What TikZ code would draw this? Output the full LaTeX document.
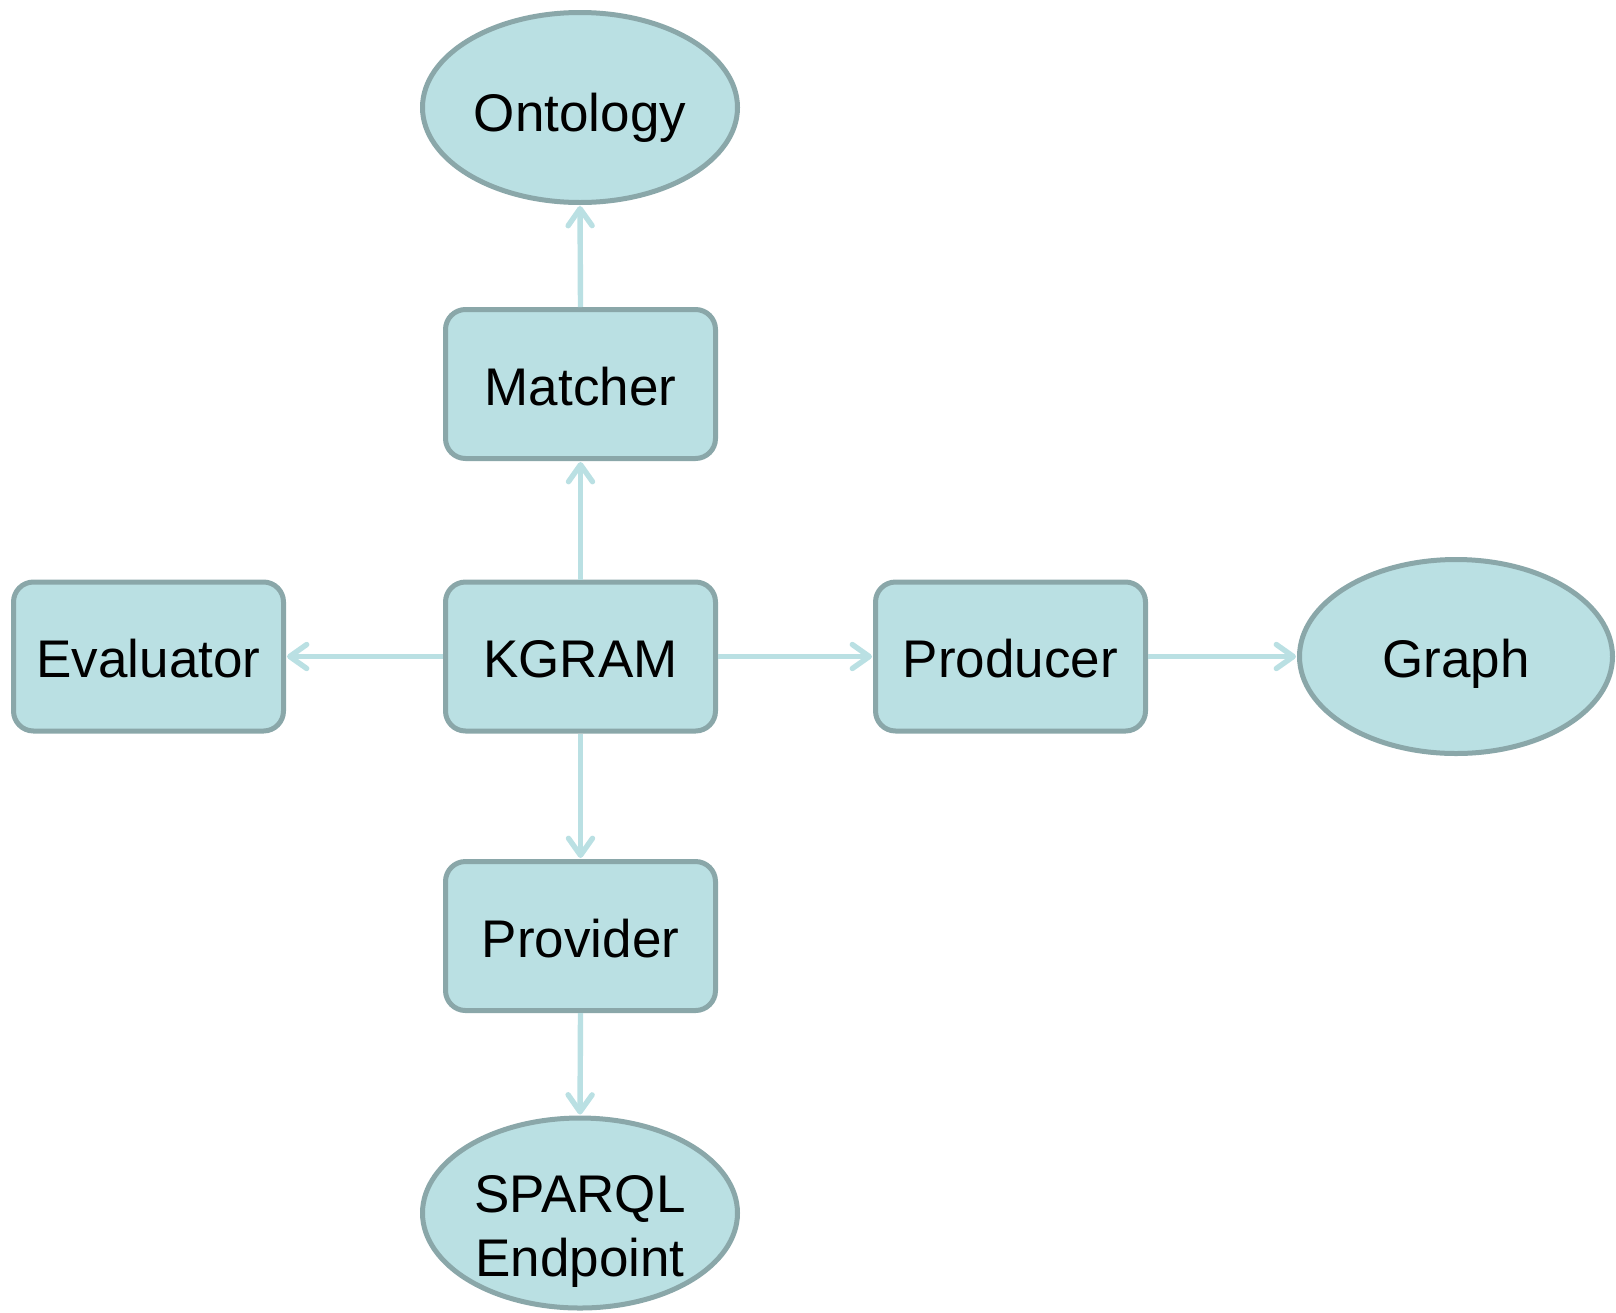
\documentclass[tikz,border=0pt]{standalone}
\usepackage{fontspec}
\setmainfont{Liberation Sans}
\usetikzlibrary{shapes.geometric,arrows.meta}
\definecolor{boxfill}{HTML}{BAE0E3}
\definecolor{boxline}{HTML}{8AA7A9}
\definecolor{linkcol}{HTML}{BAE0E3}
\begin{document}
\begin{tikzpicture}[x=0.5pt,y=-0.5pt,
  label text/.style={font=\fontsize{26.5}{32}\selectfont, text=black, align=center,
    text height=21pt, text depth=0pt},
  module/.style={label text, draw=boxline, fill=boxfill, line width=2.5pt,
    rounded corners=10pt, minimum width=135pt, minimum height=74.5pt, inner sep=0pt},
  store/.style={label text, ellipse, draw=boxline, fill=boxfill, line width=2.5pt,
    minimum width=157.5pt, minimum height=93.5pt, inner sep=0pt},
  link/.style={draw=linkcol, line width=2.7pt,
    -{Straight Barb[length=8.5pt,width=12pt,line cap=round,round]}, shorten >=0.5pt}]
\useasboundingbox (0,0) rectangle (1616,1312);

% stores
\node[store, minimum height=95pt, text height=24pt] (onto) at (580,107.5) {Ontology};
\node[store, minimum width=156.5pt, minimum height=97pt] (graph) at (1456,656.5) {Graph};
\node[store, minimum height=95pt, text height=63pt] (sparql) at (580,1213) {SPARQL\\Endpoint};

% modules
\node[module] (matcher) at (580.5,384) {Matcher};
\node[module] (kgram) at (580.5,656.5) {KGRAM};
\node[module] (eval) at (148.5,656.5) {Evaluator};
\node[module] (prod) at (1010.5,656.5) {Producer};
\node[module] (prov) at (580.5,936) {Provider};

% links
\draw[link] (matcher.north) -- (onto.south);
\draw[link] (kgram.north) -- (matcher.south);
\draw[link] (kgram.west) -- (eval.east);
\draw[link] (kgram.east) -- (prod.west);
\draw[link] (prod.east) -- (graph.west);
\draw[link] (kgram.south) -- (prov.north);
\draw[link] (prov.south) -- (sparql.north);
\end{tikzpicture}
\end{document}
